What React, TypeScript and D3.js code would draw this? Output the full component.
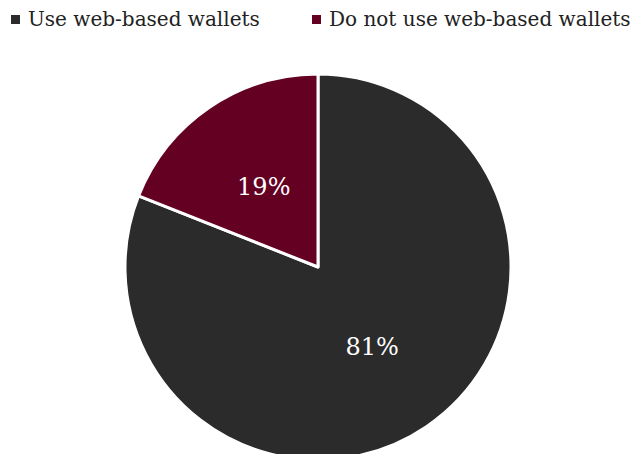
import React from "react";
import * as d3 from "d3";

const categories = ["Use web-based wallets", "Do not use web-based wallets"];
const values = [81, 19];
const colors = ["#2b2b2b", "#640021"];

const FONT = "DejaVu Serif";

export default function App() {
  const width = 636;
  const height = 454;
  const cx = 318;
  const cy = 267;
  const r = 193;
  const pie = d3.pie<number>().sort(null).value((d) => d)(values);
  const arc = d3.arc<d3.PieArcDatum<number>>().innerRadius(0).outerRadius(r);
  const labelArc = d3.arc<d3.PieArcDatum<number>>().innerRadius(r * 0.5).outerRadius(r * 0.5);
  const legendX = [11, 312];
  return (
    <svg width={width} height={height} style={{ position: "absolute", left: 0, top: 0 }}>
      <g transform={`translate(${cx},${cy})`}>
        {pie.map((p, i) => (
          <path key={i} d={arc(p) || ""} fill={colors[i]} stroke="#ffffff" strokeWidth={3} strokeLinejoin="round" />
        ))}
        {pie.map((p, i) => {
          const [x, y] = labelArc.centroid(p);
          return (
            <text key={i} x={x} y={y} textAnchor="middle" dominantBaseline="central" fill="#ffffff" fontSize={24} fontFamily={FONT}>
              {values[i]}%
            </text>
          );
        })}
      </g>
      {categories.map((c, i) => (
        <g key={i} transform={`translate(${legendX[i]},0)`}>
          <rect x={0} y={15} width={9} height={9} fill={colors[i]} />
          <text x={17} y={26} fontSize={20} fill="#222" fontFamily={FONT}>{c}</text>
        </g>
      ))}
    </svg>
  );
}
